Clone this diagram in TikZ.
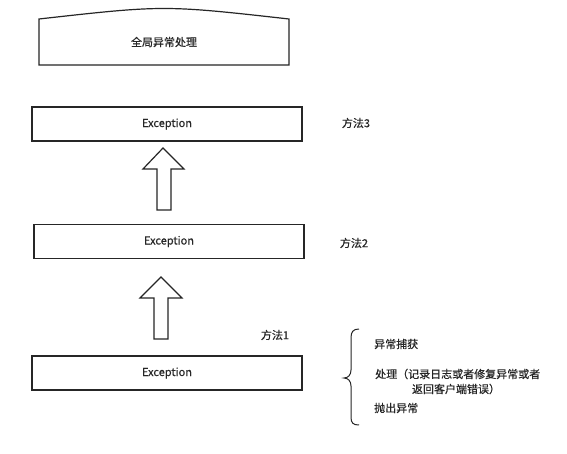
\documentclass[tikz,border=0pt]{standalone}
\usepackage{fontspec}
\setmainfont[FakeBold=0.6]{Noto Sans CJK SC}
\begin{document}
\begin{tikzpicture}[x=1pt,y=-1pt,
  line/.style={draw=black!85,line width=1.2pt},
  exbox/.style={line,rectangle,minimum width=270pt,minimum height=34pt,inner sep=0pt,font=\fontsize{11pt}{13pt}\selectfont,text=black!85},
  lbl/.style={font=\fontsize{11pt}{13pt}\selectfont,text=black!85,inner sep=0pt},
  blockarrow/.style={line,fill=white,line join=miter}]
\useasboundingbox (0,0) rectangle (567,454);
\fill[white] (0,0) rectangle (567,454);
% top shape
\draw[line] (39,19) .. controls (164,5) .. (289,19) -- (289,65) -- (39,65) -- cycle;
\node[lbl] (glob) at (164,42) {全局异常处理};
% boxes
\node[exbox] (e3) at (167,124) {Exception};
\node[exbox] (e2) at (169,241.5) {Exception};
\node[exbox] (e1) at (167,373) {Exception};
\node[lbl] (m3) at (356,123) {方法3};
\node[lbl] (m2) at (354,243) {方法2};
\node[lbl] (m1) at (275,335) {方法1};
% block arrows
\coordinate (a1tip) at (163,148);
\draw[blockarrow] (a1tip) -- (184,169) -- (171,169) -- (171,210) -- (157,210) -- (157,169) -- (143,169) -- cycle;
\coordinate (a2tip) at (161,277);
\draw[blockarrow] (a2tip) -- (182,298) -- (168,298) -- (168,339) -- (154,339) -- (154,298) -- (140,298) -- cycle;
% brace
\draw[line,line width=1pt] (359,329) .. controls (353,329) and (351,332) .. (351,338) -- (351,370)
  .. controls (351,375) and (348,378) .. (344,378)
  .. controls (348,378) and (351,381) .. (351,386) -- (351,417)
  .. controls (351,423) and (353,425) .. (359,425);
% texts
\node[lbl,anchor=west] (t1) at (374,344) {异常捕获};
\node[lbl,anchor=west] (t2) at (375,374) {处理（记录日志或者修复异常或者};
\node[lbl] (t3) at (456,389) {返回客户端错误）};
\node[lbl,anchor=west] (t4) at (374,408) {抛出异常};
\end{tikzpicture}
\end{document}
